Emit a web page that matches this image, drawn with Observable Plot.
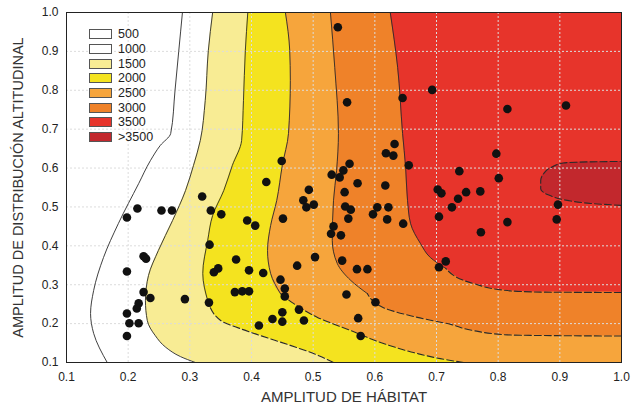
<!DOCTYPE html>
<html><head><meta charset="utf-8">
<script src="https://cdn.jsdelivr.net/npm/d3@7"></script>
<script src="https://cdn.jsdelivr.net/npm/@observablehq/plot@0.6"></script>
<style>
body{margin:0;background:#fff;font-family:"Liberation Sans",Arial,sans-serif;}
#wrap{position:relative;width:637px;height:410px;}
#legend{position:absolute;left:89px;top:27px;}
.row{display:flex;align-items:center;height:14.7px;}
.sw{width:21px;height:8px;border:1px solid #555;}
.lb{margin-left:6px;font-size:12.5px;color:#222;line-height:12px;}
</style></head><body><div id="wrap"><div id="legend"></div></div>
<script>
// legend
const legendLabels = ["500","1000","1500","2000","2500","3000","3500",">3500"];
const legendColors = ["#ffffff","#ffffff","#f8ec94","#f4e31f","#f6a53c","#ef8229","#e7342b","#c2282d"];

// axis ticks
const xTicks = [0.1,0.2,0.3,0.4,0.5,0.6,0.7,0.8,0.9,1.0];
const yTicks = [0.1,0.2,0.3,0.4,0.5,0.6,0.7,0.8,0.9,1.0];

// contour boundaries [x, y] (bottom -> top)
const c500 = [[0.166,0.100],[0.144,0.175],[0.139,0.226],[0.144,0.285],[0.160,0.370],[0.184,0.457],[0.217,0.560],[0.236,0.619],[0.252,0.658],[0.269,0.689],[0.276,0.800],[0.282,0.900],[0.288,1.000]];
const c1000 = [[0.309,0.100],[0.285,0.115],[0.261,0.139],[0.244,0.169],[0.231,0.208],[0.228,0.259],[0.233,0.324],[0.249,0.388],[0.272,0.465],[0.293,0.542],[0.306,0.607],[0.317,0.671],[0.325,0.774],[0.330,0.902],[0.337,1.000]];
const c1500 = [[0.533,0.100],[0.504,0.121],[0.463,0.144],[0.415,0.169],[0.382,0.187],[0.350,0.208],[0.329,0.259],[0.321,0.329],[0.329,0.414],[0.337,0.478],[0.355,0.542],[0.369,0.607],[0.384,0.671],[0.387,0.774],[0.390,0.902],[0.394,1.000]];
const c2000 = [[0.744,0.100],[0.706,0.110],[0.669,0.123],[0.614,0.149],[0.561,0.182],[0.507,0.216],[0.468,0.252],[0.447,0.277],[0.431,0.329],[0.426,0.388],[0.431,0.452],[0.441,0.517],[0.450,0.607],[0.460,0.689],[0.463,0.825],[0.462,0.902],[0.455,1.000]];
const c2500 = [[1.000,0.168],[0.896,0.169],[0.815,0.171],[0.760,0.182],[0.723,0.198],[0.669,0.216],[0.614,0.241],[0.588,0.277],[0.561,0.311],[0.539,0.355],[0.531,0.414],[0.533,0.517],[0.538,0.594],[0.541,0.689],[0.535,0.859],[0.528,1.000]];
const c3000 = [[1.000,0.280],[0.869,0.281],[0.815,0.285],[0.760,0.303],[0.715,0.342],[0.690,0.370],[0.674,0.406],[0.658,0.457],[0.653,0.517],[0.650,0.601],[0.645,0.689],[0.637,0.859],[0.625,1.000]];
const c3500 = [[1.000,0.504],[0.950,0.509],[0.912,0.517],[0.880,0.532],[0.869,0.547],[0.869,0.568],[0.874,0.586],[0.885,0.601],[0.906,0.613],[0.950,0.616],[1.000,0.617]];

// species points
const pointX = [0.320,0.215,0.198,0.254,0.271,0.334,0.351,0.393,0.406,0.332,0.225,0.229,0.375,0.339,0.346,0.396,0.198,0.225,0.236,0.292,0.331,0.373,0.385,0.396,0.217,0.214,0.198,0.202,0.217,0.198,0.412,0.540,0.555,0.645,0.693,0.632,0.618,0.630,0.655,0.449,0.559,0.549,0.530,0.543,0.572,0.617,0.424,0.493,0.551,0.702,0.708,0.484,0.489,0.501,0.552,0.561,0.557,0.604,0.622,0.597,0.620,0.646,0.704,0.451,0.533,0.529,0.545,0.503,0.474,0.419,0.547,0.571,0.588,0.447,0.454,0.454,0.554,0.601,0.704,0.715,0.477,0.450,0.434,0.450,0.485,0.573,0.577,0.815,0.910,0.797,0.737,0.801,0.748,0.771,0.735,0.725,0.897,0.895,0.815,0.772];
const pointY = [0.527,0.496,0.473,0.491,0.491,0.491,0.481,0.465,0.452,0.403,0.373,0.367,0.365,0.332,0.342,0.337,0.334,0.281,0.266,0.263,0.254,0.281,0.283,0.283,0.252,0.239,0.226,0.201,0.201,0.168,0.195,0.962,0.769,0.780,0.801,0.662,0.638,0.632,0.607,0.618,0.611,0.594,0.583,0.576,0.561,0.555,0.564,0.544,0.538,0.545,0.535,0.517,0.499,0.506,0.501,0.493,0.470,0.499,0.499,0.481,0.468,0.457,0.475,0.470,0.450,0.431,0.427,0.371,0.349,0.330,0.362,0.340,0.340,0.313,0.290,0.270,0.275,0.255,0.345,0.360,0.236,0.229,0.212,0.205,0.208,0.214,0.168,0.752,0.761,0.637,0.592,0.574,0.538,0.540,0.521,0.499,0.506,0.468,0.461,0.435];

const points = pointX.map((x, i) => ({x, y: pointY[i]}));
const xMax = xTicks[xTicks.length - 1];
const bands = [c1000, c1500, c2000, c2500, c3000, c3500];
const bandColors = legendColors.slice(2);
// each contour line: solid above a height, dashed below it (as the reference draws the flat lower parts)
const lines = [[c500, 0], [c1000, 0], [c1500, 0.21], [c2000, 0.26], [c2500, 0.25], [c3000, 0.32], [c3500, 1.1]];

const marks = [];
bands.forEach((b, i) => {
  marks.push(Plot.areaX(b, {x1: d => d[0], x2: () => xMax, y: d => d[1], fill: bandColors[i], curve: "monotone-y", clip: true}));
});
marks.push(Plot.gridX(xTicks, {stroke: "#dcdcdc", strokeOpacity: 1, strokeDasharray: "2,2", strokeWidth: 1}));
marks.push(Plot.gridY(yTicks, {stroke: "#dcdcdc", strokeOpacity: 1, strokeDasharray: "2,2", strokeWidth: 1}));
lines.forEach(([l, t]) => {
  const upper = l.filter(d => d[1] >= t);
  const lower = l.filter(d => d[1] <= t);
  const k = l.findIndex(d => d[1] > t);
  if (k > 0 && !lower.includes(l[k])) lower.push(l[k]);
  if (upper.length > 1) marks.push(Plot.line(upper, {x: d => d[0], y: d => d[1], stroke: "#2a2a2a", strokeWidth: 0.9, curve: "monotone-y", clip: true}));
  if (lower.length > 1) marks.push(Plot.line(lower, {x: d => d[0], y: d => d[1], stroke: "#2a2a2a", strokeWidth: 1.1, strokeDasharray: "7,3", curve: "monotone-y", clip: true}));
});
marks.push(Plot.dot(points, {x: "x", y: "y", r: 4.3, fill: "#111", stroke: null}));
marks.push(Plot.frame({stroke: "#222", strokeWidth: 1}));
marks.push(Plot.axisX(xTicks, {tickFormat: d3.format(".1f"), tickSize: 0, tickPadding: 10, fontSize: 12, fill: "#222", label: null}));
marks.push(Plot.axisY(yTicks, {tickFormat: d3.format(".1f"), tickSize: 0, tickPadding: 8, fontSize: 12, fill: "#222", label: null}));
marks.push(Plot.text(["AMPLITUD DE HÁBITAT"], {frameAnchor: "bottom", dy: 39, fontSize: 15, fill: "#333"}));
marks.push(Plot.text(["AMPLITUD DE DISTRIBUCIÓN ALTITUDINAL"], {frameAnchor: "left", dx: -48, rotate: -90, textAnchor: "middle", fontSize: 14.5, fill: "#333"}));

const chart = Plot.plot({
  width: 637, height: 410,
  marginLeft: 66, marginRight: 16, marginTop: 12, marginBottom: 48,
  style: {fontFamily: "'Liberation Sans', Arial, sans-serif", background: "#fff"},
  x: {domain: [xTicks[0], xMax]},
  y: {domain: [yTicks[0], yTicks[yTicks.length - 1]]},
  marks
});
document.getElementById("wrap").prepend(chart);

const legend = document.getElementById("legend");
legendLabels.forEach((t, i) => {
  const row = document.createElement("div"); row.className = "row";
  const sw = document.createElement("div"); sw.className = "sw"; sw.style.background = legendColors[i];
  const lb = document.createElement("span"); lb.className = "lb"; lb.textContent = t;
  row.appendChild(sw); row.appendChild(lb); legend.appendChild(row);
});
</script>
</body></html>
